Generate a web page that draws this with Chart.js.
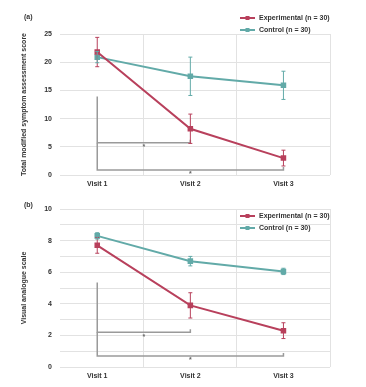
<!DOCTYPE html>
<html>
<head>
<meta charset="utf-8">
<script src="https://cdn.jsdelivr.net/npm/chart.js@4.4.1/dist/chart.umd.min.js"></script>
<style>
  html, body { margin: 0; padding: 0; background: #fff; }
  .panel { position: relative; width: 366px; }
  #panelA { height: 190px; }
  #panelB { height: 197px; }
  canvas { filter: blur(0.6px); }
</style>
</head>
<body>
<div class="panel" id="panelA"><canvas id="grafikA"></canvas></div>
<div class="panel" id="panelB"><canvas id="grafikB"></canvas></div>
<script>
// podaci
const posete = ['Visit 1', 'Visit 2', 'Visit 3'];
const nazivTretman = 'Experimental (n = 30)';
const nazivKontrola = 'Control (n = 30)';

// panel (a)
const tretmanA = [21.8, 8.2, 3.0];
const tretmanGreskaA = [2.6, 2.6, 1.4];
const kontrolaA = [20.9, 17.5, 15.9];
const kontrolaGreskaA = [1.0, 3.4, 2.5];
const podeokA = [0, 5, 10, 15, 20, 25];

// panel (b)
const tretmanB = [7.7, 3.9, 2.3];
const tretmanGreskaB = [0.5, 0.8, 0.5];
const kontrolaB = [8.3, 6.7, 6.05];
const kontrolaGreskaB = [0.2, 0.3, 0.2];
const podeokB = [0, 2, 4, 6, 8, 10];

// zagrade znacajnosti: od posete, do posete, nivo, vrh vertikale
const zagradeA = [[0, 1, 5.7, 13.9], [0, 2, 0.9, 5.7]];
const zagradeB = [[0, 1, 2.2, 5.35], [0, 2, 0.7, 2.2]];

const crvena = '#b8405c';
const tirkizna = '#62aaa8';
const siva = '#9a9a9a';
const font = 'Liberation Sans';

const tacke = niz => niz.map((v, i) => ({ x: i, y: v }));

// greske (error bars) preko skala grafika
const greskePlugin = {
  id: 'greske',
  afterDatasetsDraw(chart) {
    const ctx = chart.ctx;
    const xs = chart.scales.x, ys = chart.scales.y;
    chart.data.datasets.forEach(ds => {
      if (!ds.greske) return;
      ctx.save();
      ctx.strokeStyle = ds.borderColor;
      ctx.lineWidth = 1;
      ds.data.forEach((p, i) => {
        const px = xs.getPixelForValue(p.x);
        const y1 = ys.getPixelForValue(p.y + ds.greske[i]);
        const y2 = ys.getPixelForValue(p.y - ds.greske[i]);
        ctx.beginPath();
        ctx.moveTo(px, y1); ctx.lineTo(px, y2);
        ctx.moveTo(px - 2, y1); ctx.lineTo(px + 2, y1);
        ctx.moveTo(px - 2, y2); ctx.lineTo(px + 2, y2);
        ctx.stroke();
      });
      ctx.restore();
    });
  }
};

// zagrade i zvezdice
const zagradePlugin = {
  id: 'zagrade',
  beforeDatasetsDraw(chart, args, opts) {
    const ctx = chart.ctx;
    const xs = chart.scales.x, ys = chart.scales.y;
    ctx.save();
    ctx.strokeStyle = siva;
    ctx.fillStyle = '#666';
    ctx.lineWidth = 1.5;
    (opts.stavke || []).forEach(([od, doo, nivo, vrh]) => {
      const x1 = xs.getPixelForValue(od), x2 = xs.getPixelForValue(doo);
      const y = ys.getPixelForValue(nivo);
      ctx.beginPath();
      ctx.moveTo(x1, ys.getPixelForValue(vrh));
      ctx.lineTo(x1, y);
      ctx.lineTo(x2, y);
      ctx.lineTo(x2, y - 3);
      ctx.stroke();
      ctx.font = 'bold 7px "' + font + '"';
      ctx.textAlign = 'center';
      ctx.textBaseline = 'top';
      ctx.fillText('*', (x1 + x2) / 2, y + 1);
    });
    ctx.restore();
  }
};

// legenda i oznaka panela
const legendaPlugin = {
  id: 'legenda',
  afterDraw(chart, args, opts) {
    const ctx = chart.ctx;
    ctx.save();
    ctx.font = 'bold 7px "' + font + '"';
    ctx.fillStyle = '#333';
    ctx.textBaseline = 'middle';
    ctx.textAlign = 'left';
    ctx.fillText(opts.oznaka, 24, opts.oznakaY);
    chart.data.datasets.forEach((ds, i) => {
      const y = opts.y + i * 12;
      ctx.strokeStyle = ds.borderColor;
      ctx.lineWidth = 2;
      ctx.beginPath();
      ctx.moveTo(opts.x, y); ctx.lineTo(opts.x + 15, y);
      ctx.stroke();
      ctx.fillStyle = ds.borderColor;
      ctx.fillRect(opts.x + 5.5, y - 2, 4, 4);
      ctx.fillStyle = '#333';
      ctx.fillText(ds.label, opts.x + 19, y);
    });
    ctx.restore();
  }
};

function nacrtaj(id, cfg) {
  return new Chart(document.getElementById(id), {
    type: 'line',
    data: {
      datasets: [
        {
          label: nazivTretman,
          data: tacke(cfg.tretman),
          greske: cfg.tretmanGreska,
          borderColor: crvena,
          backgroundColor: crvena,
          borderWidth: 2,
          pointStyle: 'rect',
          pointRadius: 2.5
        },
        {
          label: nazivKontrola,
          data: tacke(cfg.kontrola),
          greske: cfg.kontrolaGreska,
          borderColor: tirkizna,
          backgroundColor: tirkizna,
          borderWidth: 2,
          pointStyle: 'rect',
          pointRadius: 2.5
        }
      ]
    },
    options: {
      responsive: true,
      maintainAspectRatio: false,
      animation: false,
      layout: { padding: { left: 20, right: 36, top: cfg.vrh, bottom: 0 } },
      plugins: {
        legend: { display: false },
        tooltip: { enabled: false },
        zagrade: { stavke: cfg.zagrade },
        legenda: cfg.legenda
      },
      scales: {
        x: {
          type: 'linear',
          min: -0.4,
          max: 2.5,
          afterBuildTicks: osa => { osa.ticks = [0, 0.5, 1, 1.5, 2, 2.5].map(v => ({ value: v })); },
          afterFit: osa => { osa.height = cfg.visinaX; },
          border: { display: false },
          grid: {
            drawTicks: false,
            color: c => (c.tick && c.tick.value % 1 !== 0) ? '#e2e2e2' : 'transparent'
          },
          ticks: {
            autoSkip: false,
            maxRotation: 0,
            padding: 5,
            color: '#333',
            font: { family: font, size: 7, weight: 'bold' },
            callback: v => Number.isInteger(v) ? posete[v] : ''
          }
        },
        y: {
          min: cfg.podeok[0],
          max: cfg.podeok[cfg.podeok.length - 1],
          afterBuildTicks: osa => { osa.ticks = cfg.mreza.map(v => ({ value: v })); },
          afterFit: osa => { osa.width = 40; },
          border: { display: false },
          grid: { drawTicks: false, color: '#e2e2e2' },
          ticks: {
            padding: 8,
            color: '#333',
            font: { family: font, size: 7, weight: 'bold' },
            callback: v => cfg.podeok.includes(v) ? v : ''
          },
          title: {
            display: true,
            text: cfg.naslovY,
            color: '#333',
            padding: { top: 0, bottom: 2 },
            font: { family: font, size: 7, weight: 'bold' }
          }
        }
      }
    },
    plugins: [zagradePlugin, greskePlugin, legendaPlugin]
  });
}

nacrtaj('grafikA', {
  tretman: tretmanA, tretmanGreska: tretmanGreskaA,
  kontrola: kontrolaA, kontrolaGreska: kontrolaGreskaA,
  podeok: podeokA, mreza: podeokA,
  zagrade: zagradeA,
  naslovY: 'Total modified symptom assessment score',
  vrh: 34, visinaX: 15,
  legenda: { oznaka: '(a)', oznakaY: 17, x: 240, y: 18 }
});

nacrtaj('grafikB', {
  tretman: tretmanB, tretmanGreska: tretmanGreskaB,
  kontrola: kontrolaB, kontrolaGreska: kontrolaGreskaB,
  podeok: podeokB, mreza: [0, 1, 2, 3, 4, 5, 6, 7, 8, 9, 10],
  zagrade: zagradeB,
  naslovY: 'Visual analogue scale',
  vrh: 19, visinaX: 20,
  legenda: { oznaka: '(b)', oznakaY: 15, x: 240, y: 26 }
});
</script>
</body>
</html>
